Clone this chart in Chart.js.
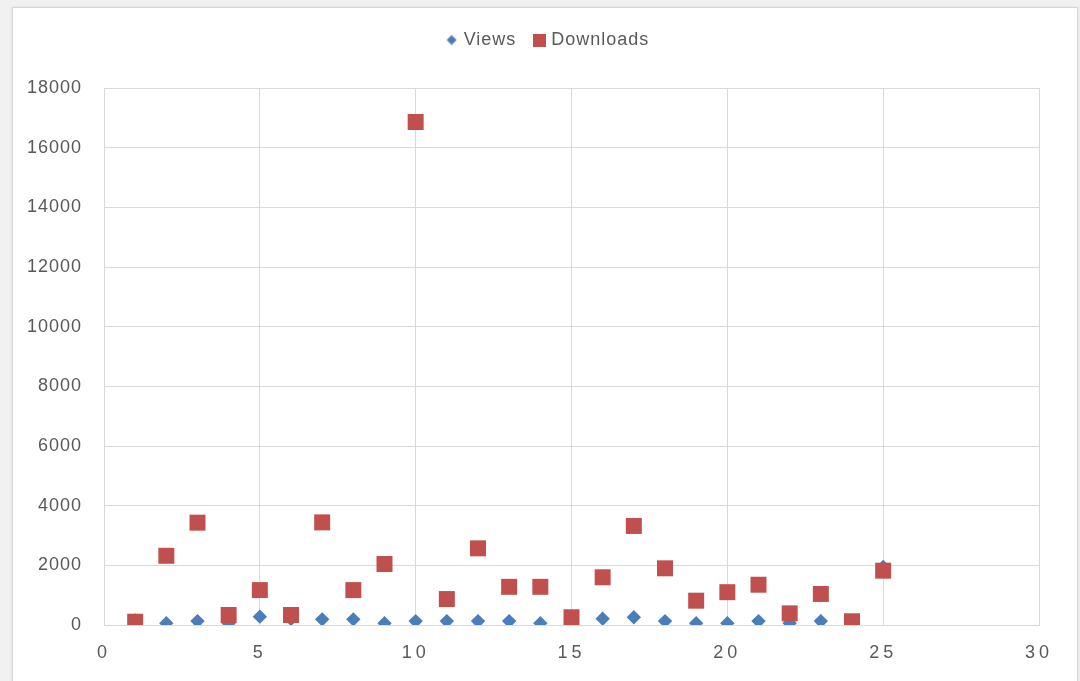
<!DOCTYPE html>
<html>
<head>
<meta charset="utf-8">
<title>Views and Downloads</title>
<script src="https://cdn.jsdelivr.net/npm/chart.js@4/dist/chart.umd.min.js"></script>
<style>
  html, body { margin: 0; padding: 0; width: 1080px; height: 681px; overflow: hidden; background: #f1f1f1; }
  #frame { position: absolute; left: 12px; top: 7px; width: 1064px; height: 700px; background: #ffffff;
           border: 1px solid #d6d6d6; box-shadow: 0 0 4px rgba(0,0,0,0.08); }
  #wrap { position: absolute; left: 0; top: 0; width: 1080px; height: 681px; }
</style>
</head>
<body>
<div id="frame"></div>
<div id="wrap"><canvas id="chart" width="1080" height="681"></canvas></div>
<script>
// Item number on the x axis
const items = [1, 2, 3, 4, 5, 6, 7, 8, 9, 10, 11, 12, 13, 14, 15, 16, 17, 18, 19, 20, 21, 22, 23, 24, 25];
// Series values
const views = [150, 60, 130, 60, 280, 200, 190, 190, 60, 130, 130, 130, 130, 60, 150, 210, 260, 130, 60, 60, 130, 60, 130, 60, 1950];
const downloads = [110, 2320, 3430, 335, 1170, 335, 3440, 1170, 2045, 16860, 870, 2570, 1280, 1280, 260, 1600, 3320, 1900, 815, 1100, 1350, 390, 1040, 125, 1820];
// Tick labels
const xTicks = [0, 5, 10, 15, 20, 25, 30];
const yTicks = [0, 2000, 4000, 6000, 8000, 10000, 12000, 14000, 16000, 18000];

const BLUE = '#4a7ebb';
const RED = '#c0504d';
const TEXT = '#595959';
const GRID = '#d9d9d9';
const FONT = "'Liberation Sans', Arial, sans-serif";

// Small legend icons
function legendIcon(kind, color) {
  const c = document.createElement('canvas');
  const s = kind === 'diamond' ? 11 : 13;
  c.width = s; c.height = s;
  const g = c.getContext('2d');
  g.fillStyle = color;
  if (kind === 'diamond') {
    g.beginPath();
    g.moveTo(s / 2, 0.5); g.lineTo(s - 0.5, s / 2); g.lineTo(s / 2, s - 0.5); g.lineTo(0.5, s / 2);
    g.closePath(); g.fill();
  } else {
    g.fillRect(0, 0, s, s);
  }
  return c;
}
const viewsIcon = legendIcon('diamond', BLUE);
const downloadsIcon = legendIcon('square', RED);

// Text spacing, room between the legend and the plot, legend position
const layoutTweaks = {
  id: 'layoutTweaks',
  beforeUpdate(chart) { chart.ctx.letterSpacing = '1px'; },
  beforeDraw(chart) { chart.ctx.letterSpacing = '1px'; },
  afterInit(chart) {
    const legend = chart.legend;
    const fit = legend.fit;
    legend.fit = function () { fit.call(this); this.height = 77; };
  },
  afterLayout(chart) {
    chart.legend.left = 59;
    const xs = chart.scales.x;
    if (!xs._spaced) {
      const draw = xs.drawLabels;
      xs.drawLabels = function (area) {
        const ctx = this.ctx;
        ctx.letterSpacing = '4px';
        draw.call(this, area);
        ctx.letterSpacing = '1px';
      };
      xs._spaced = true;
    }
  }
};

new Chart(document.getElementById('chart'), {
  type: 'scatter',
  data: {
    datasets: [
      {
        label: 'Views',
        data: items.map((x, i) => ({ x: x, y: views[i] })),
        pointStyle: 'rectRot',
        pointRadius: 7.2,
        pointHoverRadius: 7.2,
        backgroundColor: BLUE,
        borderColor: BLUE,
        borderWidth: 0,
        order: 2
      },
      {
        label: 'Downloads',
        data: items.map((x, i) => ({ x: x, y: downloads[i] })),
        pointStyle: 'rect',
        pointRadius: 11.3,
        pointHoverRadius: 11.3,
        backgroundColor: RED,
        borderColor: RED,
        borderWidth: 0,
        order: 1
      }
    ]
  },
  options: {
    responsive: false,
    animation: false,
    devicePixelRatio: 1,
    layout: { padding: { left: 0, right: 41, top: 11, bottom: 0 } },
    plugins: {
      tooltip: { enabled: false },
      legend: {
        position: 'top',
        align: 'center',
        labels: {
          usePointStyle: true,
          boxWidth: 6,
          boxHeight: 6,
          padding: 20,
          color: TEXT,
          font: { family: FONT, size: 18 },
          generateLabels: () => [
            { text: 'Views', pointStyle: viewsIcon, fillStyle: BLUE, strokeStyle: BLUE, lineWidth: 0, hidden: false, datasetIndex: 0, fontColor: TEXT },
            { text: 'Downloads', pointStyle: downloadsIcon, fillStyle: RED, strokeStyle: RED, lineWidth: 0, hidden: false, datasetIndex: 1, fontColor: TEXT }
          ]
        }
      }
    },
    scales: {
      x: {
        type: 'linear',
        min: 0,
        max: 30,
        afterBuildTicks: (s) => { s.ticks = xTicks.map(v => ({ value: v })); },
        afterFit: (s) => { s.height = 56; },
        grid: { color: GRID, lineWidth: 1, drawTicks: false },
        border: { color: GRID, width: 1 },
        ticks: { color: TEXT, padding: 17, maxRotation: 0, font: { family: FONT, size: 18 } }
      },
      y: {
        type: 'linear',
        min: 0,
        max: 18000,
        afterBuildTicks: (s) => { s.ticks = yTicks.map(v => ({ value: v })); },
        afterFit: (s) => { s.width = 104; },
        grid: { color: GRID, lineWidth: 1, drawTicks: false },
        border: { color: GRID, width: 1 },
        ticks: { color: TEXT, padding: 22, font: { family: FONT, size: 18 }, callback: (v) => String(v) }
      }
    }
  },
  plugins: [layoutTweaks]
});
</script>
</body>
</html>
